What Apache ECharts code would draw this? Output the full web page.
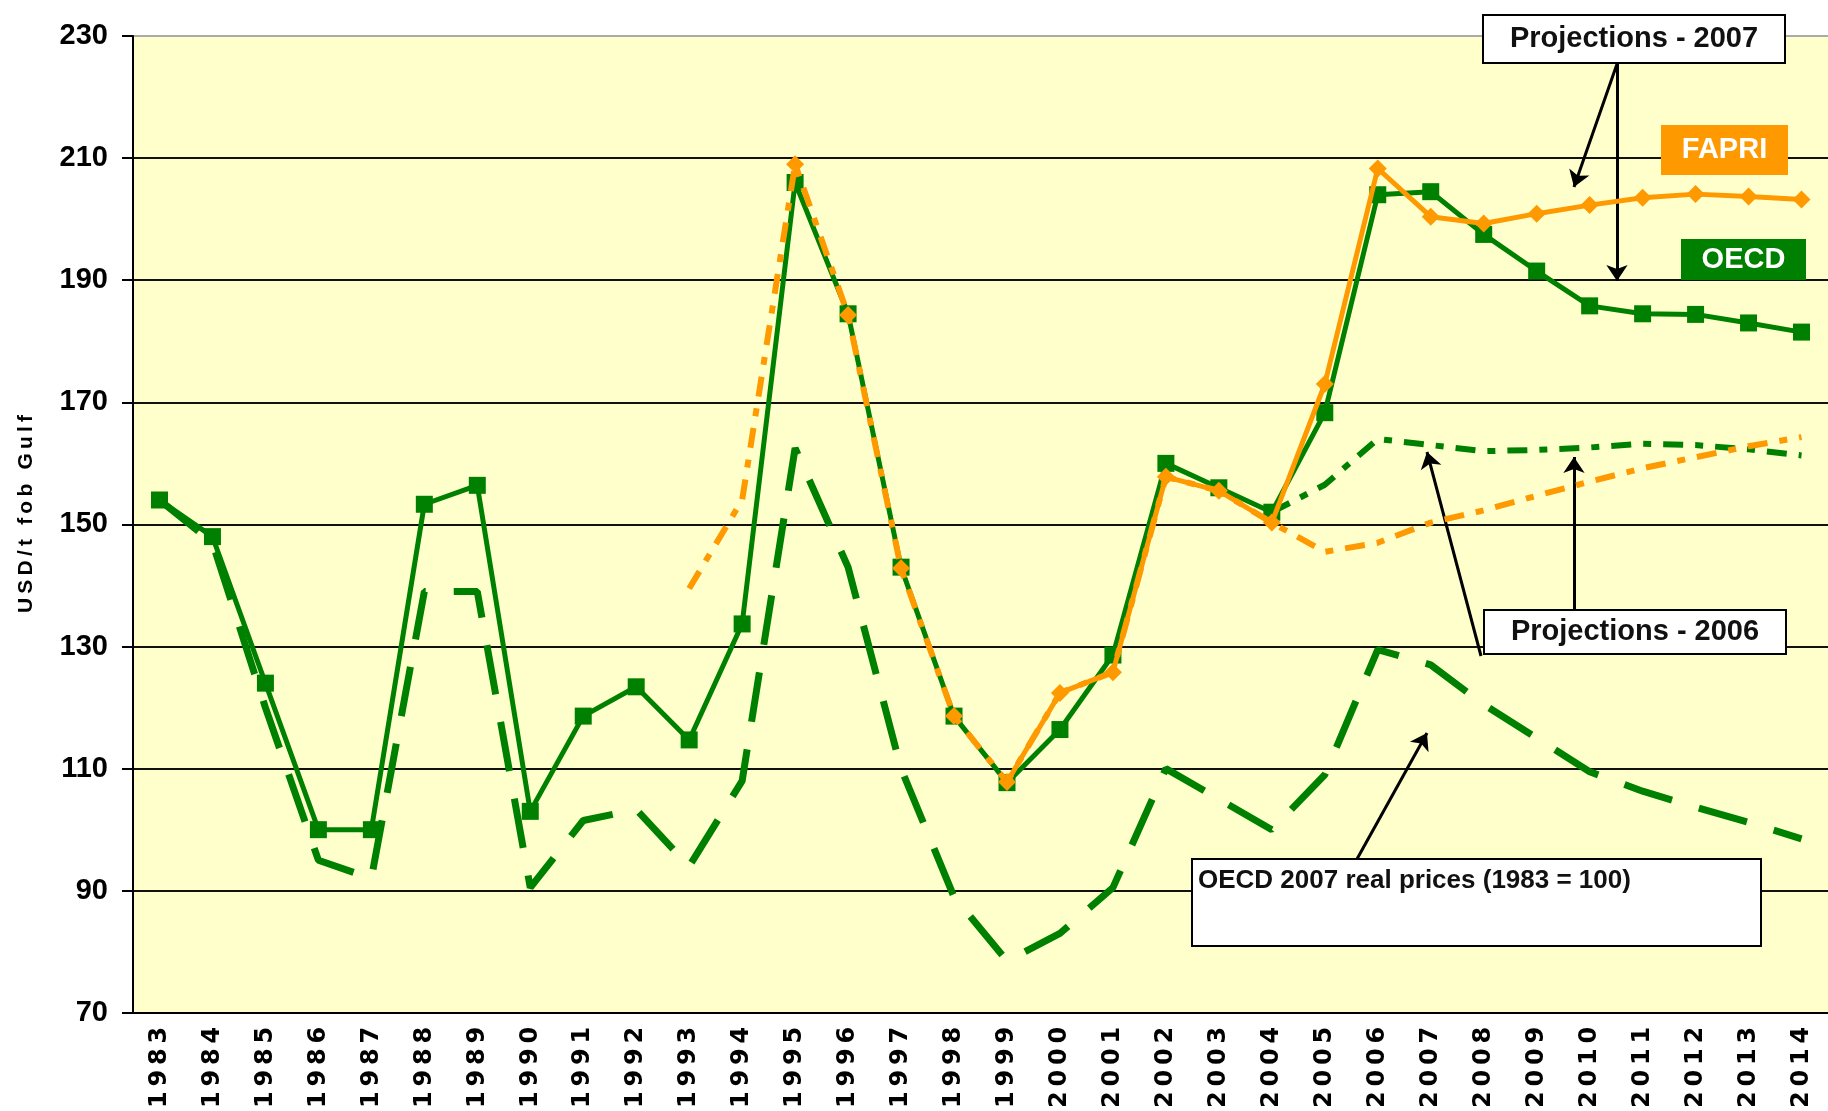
<!DOCTYPE html>
<html>
<head>
<meta charset="utf-8">
<script src="https://cdn.jsdelivr.net/npm/echarts@6/dist/echarts.min.js"></script>
<style>
  html, body { margin: 0; padding: 0; background: #fff; }
  #chart { width: 1828px; height: 1111px; }
</style>
</head>
<body>
<div id="chart"></div>
<script>
// categories
const years = ['1983', '1984', '1985', '1986', '1987', '1988', '1989', '1990', '1991', '1992',
  '1993', '1994', '1995', '1996', '1997', '1998', '1999', '2000', '2001', '2002', '2003',
  '2004', '2005', '2006', '2007', '2008', '2009', '2010', '2011', '2012', '2013', '2014']

// OECD 2007 (nominal, solid green with squares)
const oecd2007 = [154, 148, 124, 100, 100, 153.3, 156.4, 103, 118.6, 123.4, 114.7, 133.7,
  206, 184.5, 143, 118.6, 107.7, 116.4, 128.6, 160, 156, 152, 168.3, 204, 204.5, 197.5,
  191.5, 185.8, 184.5, 184.4, 183, 181.5]

// FAPRI 2007 (solid orange with diamonds)
const fapri2007 = [null, null, null, null, null, null, null, null, null, null, null, null,
  null, null, null, null, 107.8, 122.4, 125.8, 157.8, 155.5, 150.3, 173, 208.3, 200.4,
  199.3, 200.9, 202.3, 203.5, 204.1, 203.7, 203.2]

// Projections 2006
const oecd2006 = [null, null, null, null, null, null, null, null, null, null, null, null,
  null, null, null, null, null, null, null, null, null, 152, 156.5, 164, 163, 162, 162.2,
  162.6, 163.2, 163, 162.3, 161.3]
const fapri2006 = [null, null, null, null, null, null, null, null, null, null, 139.5, 154,
  209, 184.3, 142.8, 118.6, 107.8, 122.4, 125.8, 157.8, 155.5, 150.3, 145.5, 147, 150.3,
  152.3, 154.7, 157, 159.2, 161, 162.8, 164.3]
const fapri2006Markers = ['1995', '1996', '1997', '1998']

// OECD 2007 real prices (1983 = 100), dashed green
const realPrices = [154, 147, 120, 95, 92, 139, 139, 90.5, 101.5, 103.3, 94, 108, 162.5,
  143, 110, 89, 78.5, 83, 90.5, 110, 105, 100, 109, 129.5, 127, 120.5, 115, 109.5, 106.3,
  103.7, 101.2, 98.5]

const GREEN = '#008000'
const ORANGE = '#ff9900'
const FONT = '"Liberation Sans", Arial, sans-serif'

const chart = echarts.init(document.getElementById('chart'))

// white or coloured label box
const box = (x, y, w, h, fill, text, size, color, left) => ({
  type: 'group',
  children: [
    {
      type: 'rect',
      z: 100,
      shape: { x: x, y: y, width: w, height: h },
      style: { fill: fill, stroke: fill === '#fff' ? '#000' : fill, lineWidth: 2 }
    },
    {
      type: 'text',
      z: 101,
      style: {
        text: text,
        x: left ? x + 6 : x + w / 2,
        y: left ? y + 22 : y + h / 2,
        font: 'bold ' + size + 'px ' + FONT,
        fill: color,
        align: left ? 'left' : 'center',
        verticalAlign: 'middle',
        textAlign: left ? 'left' : 'center',
        textVerticalAlign: 'middle'
      }
    }
  ]
})

const arrows = [
  [{ x: 1617, y: 64 }, { x: 1574, y: 187 }],
  [{ x: 1617, y: 64 }, { x: 1617, y: 281 }],
  [{ x: 1481, y: 656 }, { x: 1427, y: 452 }],
  [{ x: 1574, y: 610 }, { x: 1574, y: 457 }],
  [{ x: 1357, y: 859 }, { x: 1427, y: 733 }]
]

const option = {
  animation: false,
  backgroundColor: '#fff',
  grid: {
    left: 133,
    top: 36,
    width: 1700,
    height: 981,
    show: true,
    backgroundColor: '#ffffcc',
    borderWidth: 0
  },
  xAxis: {
    type: 'category',
    data: years,
    boundaryGap: true,
    axisLine: { lineStyle: { color: '#000', width: 2 } },
    axisTick: { length: 8, lineStyle: { color: '#000', width: 2 } },
    axisLabel: {
      rotate: 90,
      margin: 14,
      interval: 0,
      color: '#000',
      fontFamily: '"DejaVu Sans", sans-serif',
      fontWeight: 'bold',
      fontSize: 24,
      formatter: v => v.split('').join('\u2009')
    },
    splitLine: { show: false }
  },
  yAxis: {
    type: 'value',
    min: 70,
    max: 230,
    interval: 20,
    axisLine: { show: true, lineStyle: { color: '#000', width: 2 } },
    axisTick: { show: true, length: 11, lineStyle: { color: '#000', width: 2 } },
    axisLabel: {
      margin: 25,
      color: '#000',
      fontFamily: FONT,
      fontWeight: 'bold',
      fontSize: 29
    },
    splitLine: {
      lineStyle: {
        color: ['#000', '#111', '#111', '#111', '#111', '#111', '#111', '#111', '#aaa'],
        width: 2
      }
    }
  },
  series: [
    {
      name: 'OECD 2007 real prices',
      type: 'line',
      data: realPrices,
      symbol: 'none',
      lineStyle: { color: GREEN, width: 7, type: [50, 28], cap: 'butt' },
      z: 2
    },
    {
      name: 'OECD projections 2006',
      type: 'line',
      data: oecd2006,
      symbol: 'none',
      lineStyle: { color: GREEN, width: 6, type: [20, 12, 8, 12] },
      z: 3
    },
    {
      name: 'OECD',
      type: 'line',
      data: oecd2007,
      symbol: 'rect',
      symbolSize: 17,
      itemStyle: { color: GREEN },
      lineStyle: { color: GREEN, width: 5 },
      z: 4
    },
    {
      name: 'FAPRI',
      type: 'line',
      data: fapri2007,
      symbol: 'diamond',
      symbolSize: 18,
      itemStyle: { color: ORANGE },
      lineStyle: { color: ORANGE, width: 5 },
      z: 5
    },
    {
      name: 'FAPRI projections 2006',
      type: 'line',
      data: fapri2006.map((v, i) => fapri2006Markers.includes(years[i])
        ? { value: v, symbol: 'diamond', symbolSize: 18 }
        : { value: v, symbol: 'none' }),
      symbol: 'diamond',
      itemStyle: { color: ORANGE },
      lineStyle: { color: ORANGE, width: 6, type: [20, 12, 8, 12] },
      z: 6,
      markLine: {
        silent: true,
        symbol: ['none', 'arrow'],
        symbolSize: 16,
        label: { show: false },
        lineStyle: { color: '#000', width: 3, type: 'solid' },
        data: arrows
      }
    }
  ],
  graphic: [
    {
      // y axis title
      type: 'text',
      x: 26,
      y: 514,
      rotation: Math.PI / 2,
      style: {
        text: 'USD/t fob Gulf'.split('').join('\u2009'),
        font: 'bold 21px ' + FONT,
        fill: '#000',
        align: 'center',
        verticalAlign: 'middle',
        textAlign: 'center',
        textVerticalAlign: 'middle'
      }
    },
    box(1483, 15, 302, 48, '#fff', 'Projections - 2007', 29, '#111'),
    box(1662, 126, 125, 48, ORANGE, 'FAPRI', 29, '#fff'),
    box(1682, 240, 123, 39, GREEN, 'OECD', 29, '#fff'),
    box(1484, 610, 302, 44, '#fff', 'Projections - 2006', 29, '#111'),
    box(1192, 859, 569, 87, '#fff', 'OECD 2007 real prices (1983 = 100)', 26, '#111', true)
  ]
}

chart.setOption(option)
</script>
</body>
</html>
